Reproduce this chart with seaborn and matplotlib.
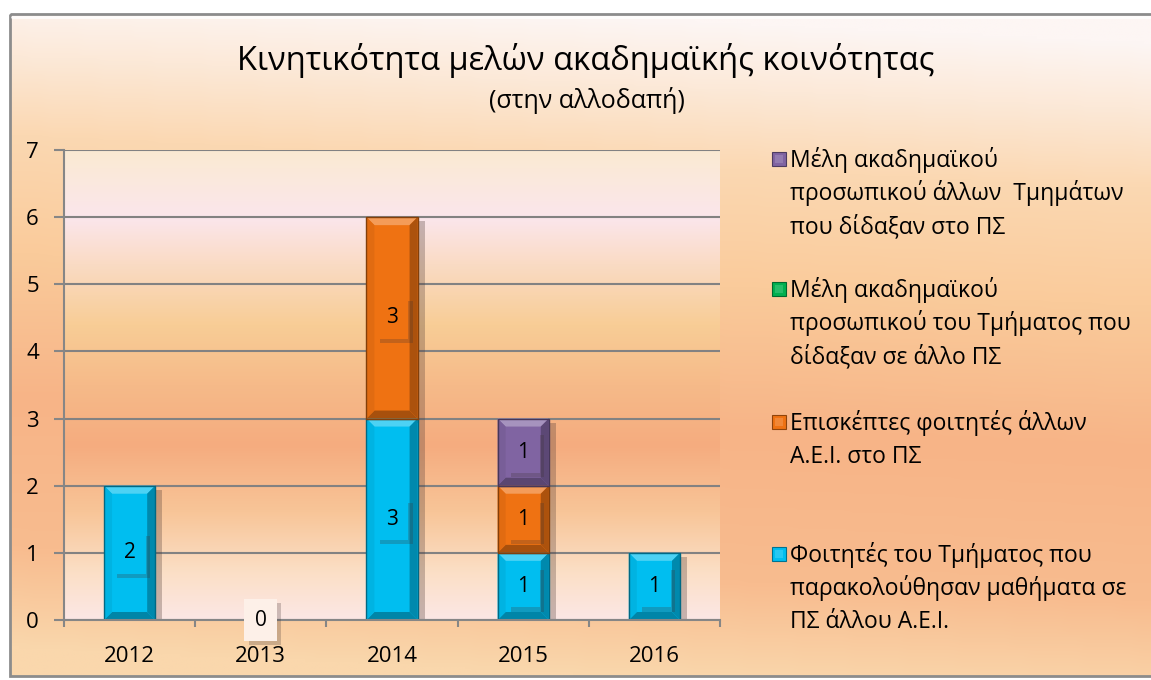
import numpy as np
import seaborn as sns
import matplotlib.pyplot as plt
import matplotlib.patheffects as pe
from matplotlib.colors import LinearSegmentedColormap, to_rgb
from matplotlib.patches import Rectangle, Polygon

# ---- data ----
years = ['2012', '2013', '2014', '2015', '2016']
students_abroad = [2, 0, 3, 1, 1]          # cyan
visiting_students = [0, 0, 3, 1, 0]        # orange
staff_taught_elsewhere = [0, 0, 0, 0, 0]   # green
other_staff_taught_here = [0, 0, 0, 1, 0]  # purple

series_names = [
    'Φοιτητές του Τμήματος που\nπαρακολούθησαν μαθήματα σε\nΠΣ άλλου Α.Ε.Ι.',
    'Επισκέπτες φοιτητές άλλων\nΑ.Ε.Ι. στο ΠΣ',
    'Μέλη ακαδημαϊκού\nπροσωπικού του Τμήματος που\nδίδαξαν σε άλλο ΠΣ',
    'Μέλη ακαδημαϊκού\nπροσωπικού άλλων  Τμημάτων\nπου δίδαξαν στο ΠΣ',
]
series_values = [students_abroad, visiting_students, staff_taught_elsewhere, other_staff_taught_here]
series_colors = ['#00BEF0', '#EF7212', '#00B050', '#8064A2']

title = 'Κινητικότητα μελών ακαδημαϊκής κοινότητας'
subtitle = '(στην αλλοδαπή)'

sns.set_theme(style='white')
plt.rcParams['font.family'] = ['Open Sans', 'DejaVu Sans']

W, H = 1151, 680
fig = plt.figure(figsize=(W / 100, H / 100), dpi=100)
fig.patch.set_facecolor('white')


def mix(c, other, t):
    c = np.array(to_rgb(c))
    o = np.array(to_rgb(other))
    return tuple(c * (1 - t) + o * t)


def rgb(*v):
    return tuple(x / 255 for x in v)


# ---- outer chart background (pixel coordinates) ----
canvas = fig.add_axes([0, 0, 1, 1], zorder=-100)
canvas.set_xlim(0, W)
canvas.set_ylim(H, 0)
canvas.axis('off')
outer_cmap = LinearSegmentedColormap.from_list('outer', [
    (0.00, rgb(253, 246, 244)),
    (0.10, rgb(252, 233, 216)),
    (0.22, rgb(251, 216, 178)),
    (0.40, rgb(250, 203, 155)),
    (0.62, rgb(247, 180, 135)),
    (0.85, rgb(248, 188, 143)),
    (1.00, rgb(250, 215, 172)),
])
grad = np.linspace(0, 1, 256).reshape(-1, 1)
horiz = np.linspace(0, 1, 64).reshape(1, -1)
canvas.imshow(np.clip(grad + 0.08 * (1 - horiz) - 0.04, 0, 1), cmap=outer_cmap, vmin=0, vmax=1,
              extent=(10, W + 2, 676, 14), aspect='auto', zorder=0)
canvas.add_patch(Rectangle((10, 14), W - 8, 662, fill=False, ec=rgb(140, 140, 140), lw=2, zorder=2))
canvas.plot([12, W], [17, 17], color='white', lw=2, alpha=0.8, zorder=2)

# ---- plot area ----
rect = [64 / W, 1 - 620 / H, 656 / W, 470 / H]
plot_bg = fig.add_axes(rect, zorder=-50)
plot_bg.axis('off')
inner_cmap = LinearSegmentedColormap.from_list('inner', [
    (0 / 7, rgb(252, 231, 229)),
    (0.7 / 7, rgb(251, 223, 198)),
    (1.6 / 7, rgb(248, 197, 152)),
    (2.6 / 7, rgb(245, 172, 127)),
    (3.5 / 7, rgb(246, 186, 137)),
    (4.4 / 7, rgb(248, 205, 150)),
    (5.3 / 7, rgb(250, 219, 196)),
    (6.0 / 7, rgb(251, 230, 236)),
    (7 / 7, rgb(250, 234, 210)),
])
plot_bg.imshow(np.linspace(1, 0, 256).reshape(-1, 1), cmap=inner_cmap, vmin=0, vmax=1,
               extent=(0, 1, 0, 1), aspect='auto')
plot_bg.set_xlim(0, 1)
plot_bg.set_ylim(0, 1)

ax = fig.add_axes(rect)
ax.set_facecolor('none')

bottom = np.zeros(len(years))
for vals, color in zip(series_values, series_colors):
    sns.barplot(x=years, y=vals, bottom=bottom, color=color, saturation=1, width=0.39,
                errorbar=None, linewidth=0, ax=ax, zorder=2)
    bottom = bottom + np.array(vals)

ax.set_xlim(-0.5, len(years) - 0.5)
ax.set_ylim(0, 7)
ax.set_yticks(range(0, 8))
ax.grid(axis='y', color=rgb(130, 130, 130), lw=1.5, zorder=0.5)
ax.set_axisbelow(True)
for s in ['top', 'right']:
    ax.spines[s].set_visible(False)
for s in ['left', 'bottom']:
    ax.spines[s].set_color(rgb(134, 134, 134))
    ax.spines[s].set_linewidth(1.5)
ax.tick_params(axis='y', left=True, length=7, width=1.5, color=rgb(134, 134, 134),
               labelsize=16, pad=11, labelcolor='black')
ax.tick_params(axis='x', bottom=False, labelsize=16, pad=13, labelcolor='black')
ax.set_xticks(np.arange(-0.5, len(years), 1), minor=True)
ax.tick_params(axis='x', which='minor', bottom=True, length=5, width=1.5,
               color=rgb(134, 134, 134))
ax.set_xlabel('')
ax.set_ylabel('')

# bevel + shadow on every bar segment
px_x = ax.transData.transform((1, 0))[0] - ax.transData.transform((0, 0))[0]
px_y = ax.transData.transform((0, 1))[1] - ax.transData.transform((0, 0))[1]
bx, by = 8 / px_x, 8 / px_y
shadow = pe.SimplePatchShadow(offset=(5, -3), shadow_rgbFace=(0.3, 0.22, 0.2), alpha=0.3)
for cont, color in zip(ax.containers, series_colors):
    for p in cont:
        x, y, w, h = p.get_x(), p.get_y(), p.get_width(), p.get_height()
        if h <= 0:
            p.set_visible(False)
            continue
        p.set_path_effects([shadow, pe.Normal()])
        faces = [
            ([(x, y + h), (x + w, y + h), (x + w - bx, y + h - by), (x + bx, y + h - by)], mix(color, 'white', 0.3)),
            ([(x, y), (x + w, y), (x + w - bx, y + by), (x + bx, y + by)], mix(color, 'black', 0.3)),
            ([(x, y), (x + bx, y + by), (x + bx, y + h - by), (x, y + h)], mix(color, 'black', 0.06)),
            ([(x + w, y), (x + w - bx, y + by), (x + w - bx, y + h - by), (x + w, y + h)], mix(color, 'black', 0.28)),
        ]
        for pts, fc in faces:
            ax.add_patch(Polygon(pts, closed=True, fc=fc, ec='none', zorder=2.1))
        ax.add_patch(Rectangle((x, y), w, h, fill=False, ec=mix(color, 'black', 0.45), lw=1, zorder=2.2))

# value labels
label_shadow = pe.SimplePatchShadow(offset=(3, -3), shadow_rgbFace=(0.25, 0.2, 0.2), alpha=0.25)
for i, (cont, vals, color) in enumerate(zip(ax.containers, series_values, series_colors)):
    show_zero = (i == 0)
    labels = [str(v) if (v != 0 or show_zero) else '' for v in vals]
    texts = ax.bar_label(cont, labels=labels, label_type='center', fontsize=15, color='black', zorder=3)
    for t, v in zip(texts, vals):
        if t.get_text() == '':
            continue
        fc = color if v != 0 else rgb(253, 240, 232)
        t.set_bbox(dict(boxstyle='square,pad=0.5', fc=fc, ec='none'))
        t.get_bbox_patch().set_path_effects([label_shadow, pe.Normal()])
        t.set_zorder(3)

# title
fig.text(586 / W, 1 - 60 / H, title, ha='center', va='center', fontsize=23.5, color='black')
fig.text(587 / W, 1 - 101 / H, subtitle, ha='center', va='center', fontsize=18, color='black')

# legend, top entry = last series
legend_tops = [167, 297, 430, 562]
for k, idx in enumerate(reversed(range(len(series_names)))):
    yb = legend_tops[k]
    color = series_colors[idx]
    mx, my, ms = 772, yb - 15, 14
    canvas.add_patch(Rectangle((mx, my), ms, ms, fc=color, ec=mix(color, 'black', 0.4), lw=0.8, zorder=3))
    canvas.add_patch(Rectangle((mx + 3, my + 3), ms - 6, ms - 6, fc=mix(color, 'white', 0.15), ec='none', zorder=3.1))
    for j, line in enumerate(series_names[idx].split('\n')):
        canvas.text(790, yb + 33 * j, line, ha='left', va='baseline', fontsize=16.5, color='black', zorder=4)

fig.savefig('out.png', dpi=100)
